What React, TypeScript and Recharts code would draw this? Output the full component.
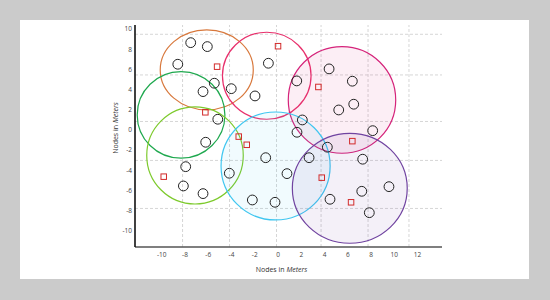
import React from 'react';
import * as R from 'recharts';

const { ScatterChart, Scatter, XAxis, YAxis, ReferenceLine, Label } = R as any;
const usePlotAreaHook: any = (R as any).usePlotArea;

// ---- axes ----
const xDomain = [-12.3, 14.1];
const yDomain = [-11.6, 10.4];
const xTicks = [-10, -8, -6, -4, -2, 0, 2, 4, 6, 8, 10, 12];
const yTicks = [-10, -8, -6, -4, -2, 0, 2, 4, 6, 8, 10];
const gridX = [-8.21, -4.17, -0.13, 3.7, 7.74, 11.26];
const gridY = [9.48, 5.45, 0.84, -3.02, -7.78];

// ---- clusters (center, radius along x in x-units, radius along y in y-units) ----
const clusterNames = ['orange', 'darkGreen', 'lightGreen', 'pink', 'magenta', 'cyan', 'purple'];
const clusterX = [-6.13, -8.34, -7.14, -0.97, 5.5, -0.21, 6.17];
const clusterY = [5.95, 1.49, -2.53, 5.37, 2.97, -3.57, -5.78];
const clusterRx = [4.0, 3.77, 4.15, 3.81, 4.62, 4.69, 4.94];
const clusterRy = [3.96, 4.29, 4.81, 4.31, 5.28, 5.35, 5.45];

// ---- sensor nodes ----
const nodeX = [-7.51, -6.08, -8.62, -5.48, -6.45, -4.02, -1.98, -0.83, -5.18, -6.22, 4.39, 1.61, 6.39, 6.51, 5.22, 2.09, 1.63, 8.14, 4.24, -7.94, -8.14, -6.45, -4.19, -1.06, -2.21, -0.26, 2.67, 7.28, 0.77, 7.2, 9.54, 4.47, 7.85];
const nodeY = [8.65, 8.26, 6.51, 4.63, 3.8, 4.09, 3.37, 6.61, 1.06, -1.22, 6.05, 4.86, 4.83, 2.55, 1.98, 0.99, -0.23, -0.07, -1.71, -3.64, -5.55, -6.31, -4.29, -2.75, -6.94, -7.17, -2.75, -2.9, -4.33, -6.08, -5.62, -6.87, -8.2];

// ---- cluster heads ----
const headX = [-5.24, -6.25, -3.38, -2.69, 0.0, 3.47, 6.39, -9.83, 3.76, 6.28];
const headY = [6.27, 1.75, -0.66, -1.47, 8.3, 4.26, -1.11, -4.63, -4.73, -7.17];

// ---- styles ----
const clusterStroke: Record<string, string> = {
  orange: '#d8783c',
  darkGreen: '#1ea84e',
  lightGreen: '#7dca2c',
  pink: '#e8306c',
  magenta: '#d5237a',
  cyan: '#3fc6f0',
  purple: '#7043a0',
};
const clusterFill: Record<string, string> = {
  orange: 'none',
  darkGreen: 'none',
  lightGreen: 'none',
  pink: 'none',
  magenta: 'rgba(213,35,122,0.08)',
  cyan: 'rgba(63,198,240,0.07)',
  purple: 'rgba(112,67,160,0.08)',
};

const clusters = clusterNames.map((name, i) => ({ name, x: clusterX[i], y: clusterY[i], rx: clusterRx[i], ry: clusterRy[i] }));
const nodes = nodeX.map((x, i) => ({ x, y: nodeY[i] }));
const heads = headX.map((x, i) => ({ x, y: headY[i] }));

const CHART_W = 550;
const CHART_H = 300;
const MARGIN = { top: 25, right: 108, bottom: 23, left: 105 };
const Y_AXIS_W = 30;
const X_AXIS_H = 30;
const FALLBACK_PLOT_W = CHART_W - MARGIN.left - MARGIN.right - Y_AXIS_W;
const FALLBACK_PLOT_H = CHART_H - MARGIN.top - MARGIN.bottom - X_AXIS_H;

const ClusterShape = (props: any) => {
  const plot = usePlotAreaHook ? usePlotAreaHook() : null;
  const plotW = plot && plot.width ? plot.width : FALLBACK_PLOT_W;
  const plotH = plot && plot.height ? plot.height : FALLBACK_PLOT_H;
  const pxX = plotW / (xDomain[1] - xDomain[0]);
  const pxY = plotH / (yDomain[1] - yDomain[0]);
  const { cx, cy, payload } = props;
  if (cx == null || cy == null) return null;
  return (
    <ellipse
      cx={cx}
      cy={cy}
      rx={payload.rx * pxX}
      ry={payload.ry * pxY}
      fill={clusterFill[payload.name]}
      stroke={clusterStroke[payload.name]}
      strokeWidth={1.2}
    />
  );
};

const NodeShape = (props: any) => {
  const { cx, cy } = props;
  if (cx == null || cy == null) return null;
  return <circle cx={cx} cy={cy} r={4.9} fill="none" stroke="#222" strokeWidth={1} />;
};

const HeadShape = (props: any) => {
  const { cx, cy } = props;
  if (cx == null || cy == null) return null;
  const s = 5.5;
  return <rect x={cx - s / 2} y={cy - s / 2} width={s} height={s} fill="none" stroke="#d22b2b" strokeWidth={1} />;
};

const FONT = '"Open Sans", "DejaVu Sans", sans-serif';

const XLabel = (props: any) => {
  const vb = props.viewBox || {};
  return (
    <text x={vb.x + vb.width / 2 - 7} y={vb.y + 25} textAnchor="middle" fontSize={7} fill="#333" fontFamily={FONT}>
      Nodes in <tspan fontStyle="italic">Meters</tspan>
    </text>
  );
};

const YLabel = (props: any) => {
  const vb = props.viewBox || {};
  const x = vb.x + 13;
  const y = vb.y + vb.height / 2 - 8;
  return (
    <text x={x} y={y} transform={`rotate(-90 ${x} ${y})`} textAnchor="middle" fontSize={7} fill="#333" fontFamily={FONT}>
      Nodes in <tspan fontStyle="italic">Meters</tspan>
    </text>
  );
};

export default function App() {
  return (
    <div style={{ position: 'absolute', left: 0, top: 0, width: CHART_W, height: CHART_H, background: '#cbcbcb', overflow: 'hidden' }}>
      <div style={{ position: 'absolute', left: 20, top: 20, width: 509, height: 259, background: '#ffffff' }} />
      <div style={{ position: 'absolute', left: 0, top: 0 }}>
        <ScatterChart width={CHART_W} height={CHART_H} margin={MARGIN}>
          <XAxis
            type="number"
            dataKey="x"
            domain={xDomain}
            ticks={xTicks}
            allowDataOverflow
            height={X_AXIS_H}
            tickLine={false}
            tickSize={4}
            tickMargin={1}
            axisLine={{ stroke: '#555', strokeWidth: 1.5 }}
            tick={{ fontSize: 6.5, fill: '#444', fontFamily: FONT }}
            interval={0}
          >
            <Label content={XLabel} />
          </XAxis>
          <YAxis
            type="number"
            dataKey="y"
            domain={yDomain}
            ticks={yTicks}
            allowDataOverflow
            width={Y_AXIS_W}
            tickLine={false}
            tickSize={3}
            tickMargin={0}
            axisLine={{ stroke: '#111', strokeWidth: 1.6 }}
            tick={{ fontSize: 6.5, fill: '#444', fontFamily: FONT }}
            interval={0}
          >
            <Label content={YLabel} />
          </YAxis>
          {gridX.map((v) => (
            <ReferenceLine key={`gx${v}`} x={v} stroke="#d6d6d6" strokeDasharray="3 2" strokeWidth={1} />
          ))}
          {gridY.map((v) => (
            <ReferenceLine key={`gy${v}`} y={v} stroke="#d6d6d6" strokeDasharray="3 2" strokeWidth={1} />
          ))}
          <Scatter name="clusters" data={clusters} shape={ClusterShape} isAnimationActive={false} />
          <Scatter name="nodes" data={nodes} shape={NodeShape} isAnimationActive={false} />
          <Scatter name="heads" data={heads} shape={HeadShape} isAnimationActive={false} />
        </ScatterChart>
      </div>
    </div>
  );
}
